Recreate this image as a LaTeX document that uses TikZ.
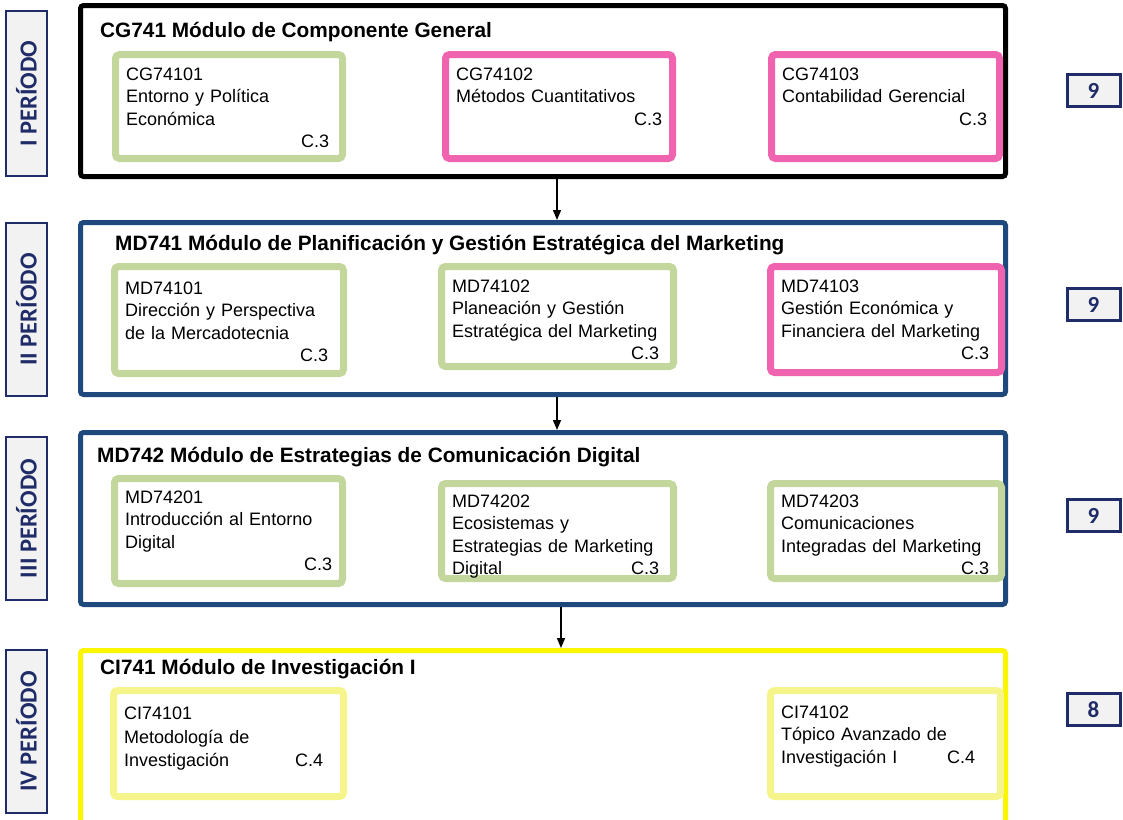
\documentclass[tikz,border=0pt]{standalone}
\usepackage{fontspec}
\setmainfont{Liberation Sans}
\newfontfamily\carl{Carlito}
\usetikzlibrary{arrows.meta}
\definecolor{navy}{RGB}{31,73,125}
\definecolor{pnavy}{RGB}{32,44,104}
\definecolor{pfill}{RGB}{242,242,242}
\definecolor{cgreen}{RGB}{195,214,155}
\definecolor{cpink}{RGB}{240,100,175}
\definecolor{cyel}{RGB}{245,245,140}
\definecolor{myel}{RGB}{250,245,0}
\tikzset{
 module/.style={draw, line width=5pt, rounded corners=3pt, inner sep=0pt, fill=white},
 coursebox/.style={draw, line width=7pt, rounded corners=4pt, inner sep=0pt, fill=white},
 ctext/.style={anchor=north west, inner sep=0pt, align=left, font=\fontsize{18}{22.5}\selectfont},
 mtitle/.style={anchor=base west, inner sep=0pt, font=\fontsize{20.8}{24}\selectfont\bfseries},
 perbox/.style={draw=pnavy, fill=pfill, line width=2pt, inner sep=0pt, minimum width=41pt},
 ptext/.style={rotate=90, text=pnavy, font=\carl\fontsize{24.5}{26}\selectfont\bfseries, inner sep=0pt},
 credbox/.style={draw=pnavy, fill=pfill, line width=3pt, minimum width=53pt, minimum height=32pt, inner sep=0pt, text=pnavy, font=\carl\fontsize{23}{24}\selectfont\bfseries},
 arr/.style={-{Triangle[length=10pt,width=8pt]}, line width=1.4pt}
}
% #1 name, #2 L, #3 T, #4 R, #5 B, #6 colour, #7 first baseline, #8 text width, #9 text
\newcommand\coursenode[9]{%
 \node[coursebox, draw=#6, minimum width={#4-#2-7}, minimum height={#5-#3-7}] (#1) at ({(#2+#4)/2},{(#3+#5)/2}) {};
 \node[ctext, text width=#8] (#1-t) at ({#2+14},{#7-15}) {\rule{0pt}{15pt}#9};
}
\begin{document}
\begin{tikzpicture}[x=1pt,y=-1pt]
\clip (0,0) rectangle (1123,819);
\fill[white] (0,0) rectangle (1123,819);

% period labels
\node[perbox, minimum height=165pt] (p1) at (26.5,93.5) {};
\node[ptext] (p1t) at (p1.center) {I PERÍODO};
\node[perbox, minimum height=173pt] (p2) at (26.5,309.5) {};
\node[ptext] (p2t) at (p2.center) {II PERÍODO};
\node[perbox, minimum height=163pt] (p3) at (26.5,518.5) {};
\node[ptext] (p3t) at (p3.center) {III PERÍODO};
\node[perbox, minimum height=163pt] (p4) at (26.5,731.5) {};
\node[ptext] (p4t) at (p4.center) {IV PERÍODO};

% modules
\node[module, draw=black, minimum width=925pt, minimum height=171pt] (m1) at (543,91) {};
\node[module, draw=navy, minimum width=925pt, minimum height=172pt] (m2) at (543,308.5) {};
\node[module, draw=navy, minimum width=925pt, minimum height=172pt] (m3) at (543,518.5) {};
\node[module, draw=myel, minimum width=925pt, minimum height=180pt] (m4) at (543,740.5) {};

\node[mtitle] (m1t) at (100,37) {CG741 Módulo de Componente General};
\node[mtitle] (m2t) at (115,250) {MD741 Módulo de Planificación y Gestión Estratégica del Marketing};
\node[mtitle] (m3t) at (97,462) {MD742 Módulo de Estrategias de Comunicación Digital};
\node[mtitle] (m4t) at (100,674) {CI741 Módulo de Investigación I};

% courses
\coursenode{cg1}{112}{51}{346}{162}{cgreen}{80}{203pt}{CG74101\\Entorno y Política\\Económica\\\mbox{}\hfill C.3}
\coursenode{cg2}{442}{51}{676}{162}{cpink}{80}{206pt}{CG74102\\Métodos Cuantitativos\\\mbox{}\hfill C.3}
\coursenode{cg3}{768}{51}{1003}{162}{cpink}{80}{205pt}{CG74103\\Contabilidad Gerencial\\\mbox{}\hfill C.3}

\coursenode{md1}{111}{263}{347}{377}{cgreen}{294}{203pt}{MD74101\\Dirección y Perspectiva\\de la Mercadotecnia\\\mbox{}\hfill C.3}
\coursenode{md2}{438}{263}{677}{370}{cgreen}{292}{207pt}{MD74102\\Planeación y Gestión\\Estratégica del Marketing\\\mbox{}\hfill C.3}
\coursenode{md3}{767}{263}{1005}{376}{cpink}{292}{208pt}{MD74103\\Gestión Económica y\\Financiera del Marketing\\\mbox{}\hfill C.3}

\coursenode{me1}{111}{475}{346}{587}{cgreen}{503}{207pt}{MD74201\\Introducción al Entorno\\Digital\\\mbox{}\hfill C.3}
\coursenode{me2}{438}{480}{677}{582}{cgreen}{507}{207pt}{MD74202\\Ecosistemas y\\Estrategias de Marketing\\Digital\hfill C.3}
\coursenode{me3}{767}{480}{1005}{582}{cgreen}{507}{208pt}{MD74203\\Comunicaciones\\Integradas del Marketing\\\mbox{}\hfill C.3}

\coursenode{ci1}{110}{687}{347}{800}{cyel}{719}{199pt}{\fontsize{18}{24.5}\selectfont CI74101\\Metodología de\\Investigación\hfill C.4}
\coursenode{ci2}{767}{687}{1004}{800}{cyel}{718}{194pt}{CI74102\\Tópico Avanzado de\\Investigación I\hfill C.4}

% credits
\node[credbox] (c1) at (1093.5,90.5) {9};
\node[credbox] (c2) at (1093.5,304.5) {9};
\node[credbox] (c3) at (1093.5,515.5) {9};
\node[credbox] (c4) at (1093.5,709.5) {8};

% arrows
\coordinate (a1) at (557,0);
\coordinate (a3) at (561,0);
\draw[arr] (m1.south -| a1) -- (m2.north -| a1);
\draw[arr] (m2.south -| a1) -- (m3.north -| a1);
\draw[arr] (m3.south -| a3) -- (m4.north -| a3);
\end{tikzpicture}
\end{document}
